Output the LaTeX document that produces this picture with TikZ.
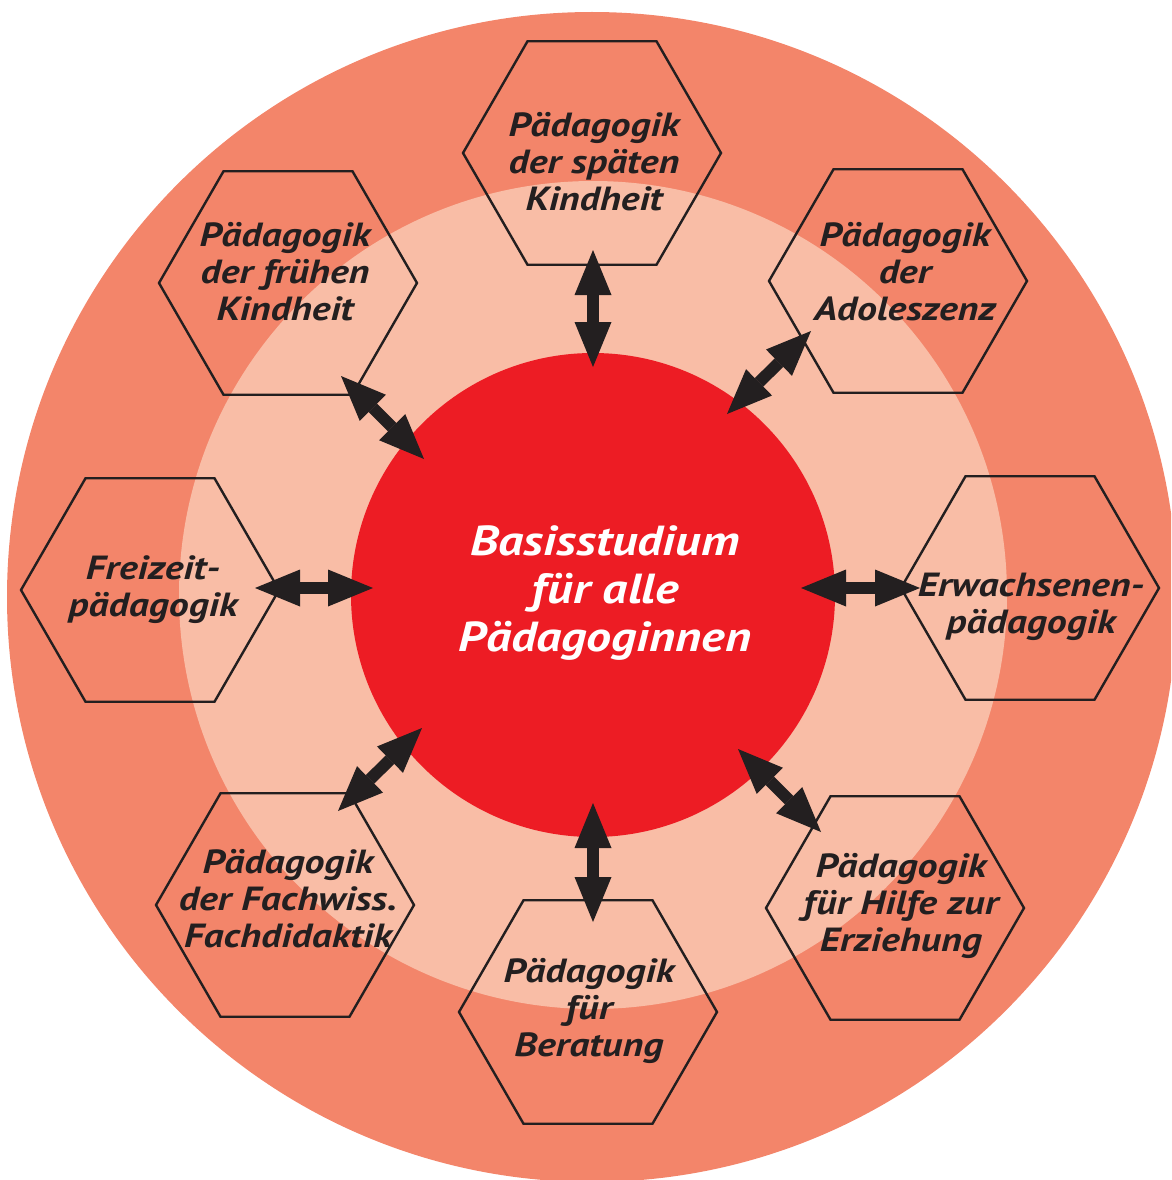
\documentclass[tikz,border=0pt]{standalone}
\usepackage{fontspec}
\setmainfont{PT Sans}[FakeStretch=1.19]
\usetikzlibrary{shapes.geometric,arrows.meta}
\definecolor{ringout}{HTML}{F3856A}
\definecolor{ringin}{HTML}{F9BDA6}
\definecolor{corered}{HTML}{ED1C24}
\definecolor{ink}{HTML}{231F20}
\begin{document}
\begin{tikzpicture}[x=1pt,y=-1pt,
  hexbox/.style={regular polygon,regular polygon sides=6,minimum size=258pt,
    inner sep=0pt,outer sep=0pt,draw=ink,line width=2.4pt},
  % base anchor sits on the last line's baseline
  hextext/.style={font=\fontsize{33.5}{37}\selectfont\bfseries\itshape,text=ink,
    align=center,anchor=base,inner sep=0pt},
  coretext/.style={font=\fontsize{42}{48}\selectfont\bfseries\itshape,text=white,
    align=center,anchor=base,inner sep=0pt},
  link/.style={draw=ink,line width=12pt,
    {Triangle[length=45pt,width=37pt,line width=0pt]}-{Triangle[length=45pt,width=37pt,line width=0pt]}}
]
\useasboundingbox (0,0) rectangle (1171,1180);
\begin{scope}
  \clip (0,0) rectangle (1171,1180);
  % concentric rings
  \fill[ringout] (592,597) circle[radius=585pt];
  \fill[ringin] (593,595) circle[radius=414pt];
  \node[circle,fill=corered,minimum size=484pt,inner sep=0pt] (core) at (593,595) {};

  % study areas
  \node[hexbox] (h1) at (592,153) {};
  \node[hexbox] (h2) at (898,281) {};
  \node[hexbox] (h3) at (1030,588) {};
  \node[hexbox] (h4) at (895,908) {};
  \node[hexbox] (h5) at (588,1012) {};
  \node[hexbox] (h6) at (285,905) {};
  \node[hexbox] (h7) at (150,590) {};
  \node[hexbox] (h8) at (288,283) {};

  % arrow end points
  \coordinate (a1o) at (593,250);  \coordinate (a1i) at (593,367);
  \coordinate (a2o) at (811,331);  \coordinate (a2i) at (727,414);
  \coordinate (a3o) at (920,588);  \coordinate (a3i) at (801,588);
  \coordinate (a4o) at (821,832);  \coordinate (a4i) at (738,749);
  \coordinate (a5o) at (593,922);  \coordinate (a5i) at (593,803);
  \coordinate (a6o) at (338,811);  \coordinate (a6i) at (422,728);
  \coordinate (a7o) at (255,588);  \coordinate (a7i) at (373,588);
  \coordinate (a8o) at (341,376);  \coordinate (a8i) at (424,459);

  \foreach \k in {1,...,8} {\draw[link] (a\k o) -- (a\k i);}

  % labels
  \node[coretext] (tc) at (605,651) {Basisstudium\\für alle\\Pädagoginnen};
  \node[hextext] (t1) at (594,210) {Pädagogik\\der späten\\Kindheit};
  \node[hextext] (t2) at (905,320) {Pädagogik\\der\\Adoleszenz};
  \node[hextext] (t3) at (1031,633) {Erwachsenen-\\pädagogik};
  \node[hextext] (t4) at (901,951) {Pädagogik\\für Hilfe zur\\Erziehung};
  \node[hextext] (t5) at (589,1056) {Pädagogik\\für\\Beratung};
  \node[hextext] (t6) at (288,947) {Pädagogik\\der Fachwiss.\\Fachdidaktik};
  \node[hextext] (t7) at (153,616) {Freizeit-\\pädagogik};
  \node[hextext] (t8) at (285,320) {Pädagogik\\der frühen\\Kindheit};
\end{scope}
\end{tikzpicture}
\end{document}
